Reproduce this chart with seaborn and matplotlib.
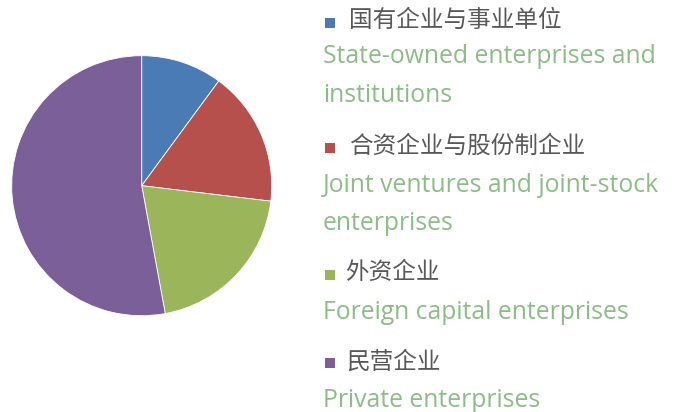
import matplotlib
matplotlib.use("Agg")
import matplotlib.pyplot as plt
import seaborn as sns
from matplotlib.patches import Rectangle

# ---------------- data ----------------
labels_cn = ["国有企业与事业单位", "合资企业与股份制企业", "外资企业", "民营企业"]
labels_en = [
    ["State-owned enterprises and", "institutions"],
    ["Joint ventures and joint-stock", "enterprises"],
    ["Foreign capital enterprises"],
    ["Private enterprises"],
]
shares = [10.1, 16.8, 20.2, 52.9]
colors = ["#4a7bb4", "#b6504c", "#9bb55a", "#7a5f98"]

sns.set_theme(style="white")
plt.rcParams["font.family"] = ["Open Sans", "Noto Sans CJK SC", "DejaVu Sans"]

W, H = 679, 412
fig = plt.figure(figsize=(W / 100, H / 100), dpi=100)

# pie: centre (141.7, 185.7) px, radius 130 px
cx, cy, r = 141.7, 185.7, 130
ax = fig.add_axes([(cx - r) / W, (H - cy - r) / H, 2 * r / W, 2 * r / H])
ax.pie(shares, colors=colors, startangle=90, counterclock=False,
       wedgeprops=dict(linewidth=0.6, edgecolor="white"))
ax.set_xlim(-1, 1)
ax.set_ylim(-1, 1)
ax.set_aspect("equal")
ax.axis("off")

# legend block (pixel positions from top-left)
cn_y = [20, 146, 272, 362]
cn_x = [349, 349, 345, 346]
sq_y = [23, 147.5, 274.5, 362.5]
en_base = [[63, 101.5], [192, 230], [319], [407]]

def fx(x):
    return x / W

def fy(y):
    return 1 - y / H

for i in range(4):
    fig.add_artist(Rectangle((fx(325), fy(sq_y[i] + 5)), 10 / W, 10 / H,
                             transform=fig.transFigure, color=colors[i], lw=0))
    fig.text(fx(cn_x[i]), fy(cn_y[i]), labels_cn[i], fontsize=17, color="#595959",
             va="center", ha="left", family=["Noto Sans CJK SC", "DejaVu Sans"])
    for line, yb in zip(labels_en[i], en_base[i]):
        fig.text(fx(323), fy(yb), line, fontsize=17.8, color="#8cbd87",
                 va="baseline", ha="left", family=["Open Sans", "DejaVu Sans"])

fig.savefig("out.png", dpi=100, facecolor="white")
